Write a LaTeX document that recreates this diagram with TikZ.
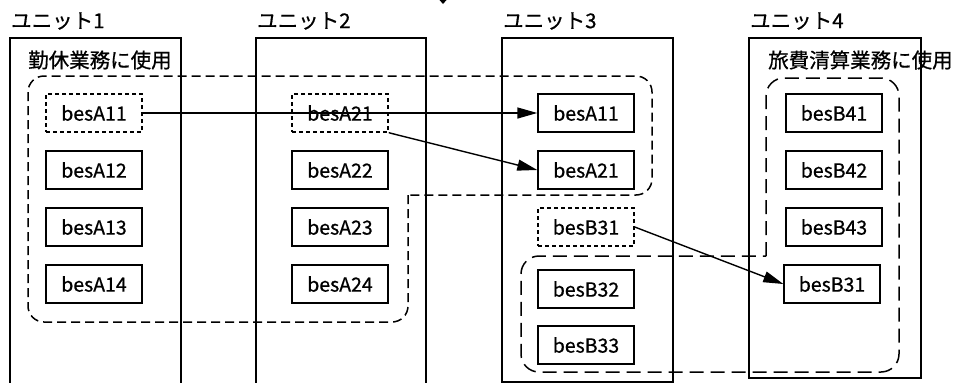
\documentclass[tikz,border=0pt]{standalone}
\usepackage{fontspec}
\setmainfont{Noto Sans CJK JP}
\newfontfamily\gothic[FakeBold=0.7]{Noto Sans CJK JP}
\usetikzlibrary{arrows.meta}
\definecolor{ink}{HTML}{000000}

\tikzset{
  unitwall/.style={ink, line width=1.9pt},
  unitlbl/.style={anchor=west, inner sep=0pt, font=\gothic\fontsize{20.5}{24}\selectfont},
  besbox/.style={draw=ink, line width=1.4pt, minimum width=96pt, minimum height=38pt,
    inner sep=0pt, font=\gothic\fontsize{19.5}{22}\selectfont},
  besdash/.style={besbox, dash pattern=on 4pt off 3pt},
  groupA/.style={ink, line width=1.5pt, dash pattern=on 9pt off 5pt, rounded corners=16pt},
  groupB/.style={ink, line width=1.5pt, dash pattern=on 14pt off 7pt, rounded corners=18pt},
  copyarrow/.style={ink, line width=1.4pt, -{Triangle[length=20pt,width=11pt]}}
}

\begin{document}
\begin{tikzpicture}[x=1pt,y=-1pt]
  \useasboundingbox (0,0) rectangle (959,383);

  % ── Units ──
  \draw[unitwall] (10,384) -- (10,38) -- (181,38) -- (181,384);
  \draw[unitwall] (256,384) -- (256,38) -- (426,38) -- (426,384);
  \draw[unitwall] (502,382) rectangle (673,38);
  \draw[unitwall] (749,378) rectangle (921,38);

  \node[unitlbl] (lbl1) at (11,21) {ユニット1};
  \node[unitlbl] (lbl2) at (257,21) {ユニット2};
  \node[unitlbl] (lbl3) at (503,21) {ユニット3};
  \node[unitlbl] (lbl4) at (750,21) {ユニット4};

  % cut-off tip at the top edge
  \fill[ink] (439.5,0) -- (446.5,0) -- (443,4) -- cycle;

  % ── Groups (dashed outlines) ──
  \node[unitlbl] (grpA) at (28,60) {勤休業務に使用};
  \draw[groupA] (408,195) -- (408,322) -- (28,322) -- (28,76) -- (652,76) -- (652,195) -- (408,195);

  \node[unitlbl] (grpB) at (768,60) {旅費清算業務に使用};
  \draw[groupB] (766,256) -- (766,78) -- (899,78) -- (899,372) -- (521,372) -- (521,256) -- (766,256);

  % ── Unit 1 ──
  \node[besdash] (u1A11) at (94,113) {besA11};
  \node[besbox]  (u1A12) at (94,170) {besA12};
  \node[besbox]  (u1A13) at (94,227) {besA13};
  \node[besbox]  (u1A14) at (94,284) {besA14};

  % ── Unit 2 ──
  \node[besdash] (u2A21) at (340,113) {besA21};
  \node[besbox]  (u2A22) at (340,170) {besA22};
  \node[besbox]  (u2A23) at (340,227) {besA23};
  \node[besbox]  (u2A24) at (340,284) {besA24};

  % ── Unit 3 ──
  \node[besbox]  (u3A11) at (586,113) {besA11};
  \node[besbox]  (u3A21) at (586,170) {besA21};
  \node[besdash] (u3B31) at (586,227) {besB31};
  \node[besbox]  (u3B32) at (586,289) {besB32};
  \node[besbox]  (u3B33) at (586,345) {besB33};

  % ── Unit 4 ──
  \node[besbox]  (u4B41) at (834,113) {besB41};
  \node[besbox]  (u4B42) at (834,170) {besB42};
  \node[besbox]  (u4B43) at (834,227) {besB43};
  \node[besbox]  (u4B31) at (832,284) {besB31};

  % ── Moves ──
  \draw[copyarrow] (u1A11.east) -- (u3A11.west);
  \draw[copyarrow] (u2A21.south east) -- (u3A21.west);
  \draw[copyarrow] (u3B31.east) -- (u4B31.west);

\end{tikzpicture}
\end{document}
